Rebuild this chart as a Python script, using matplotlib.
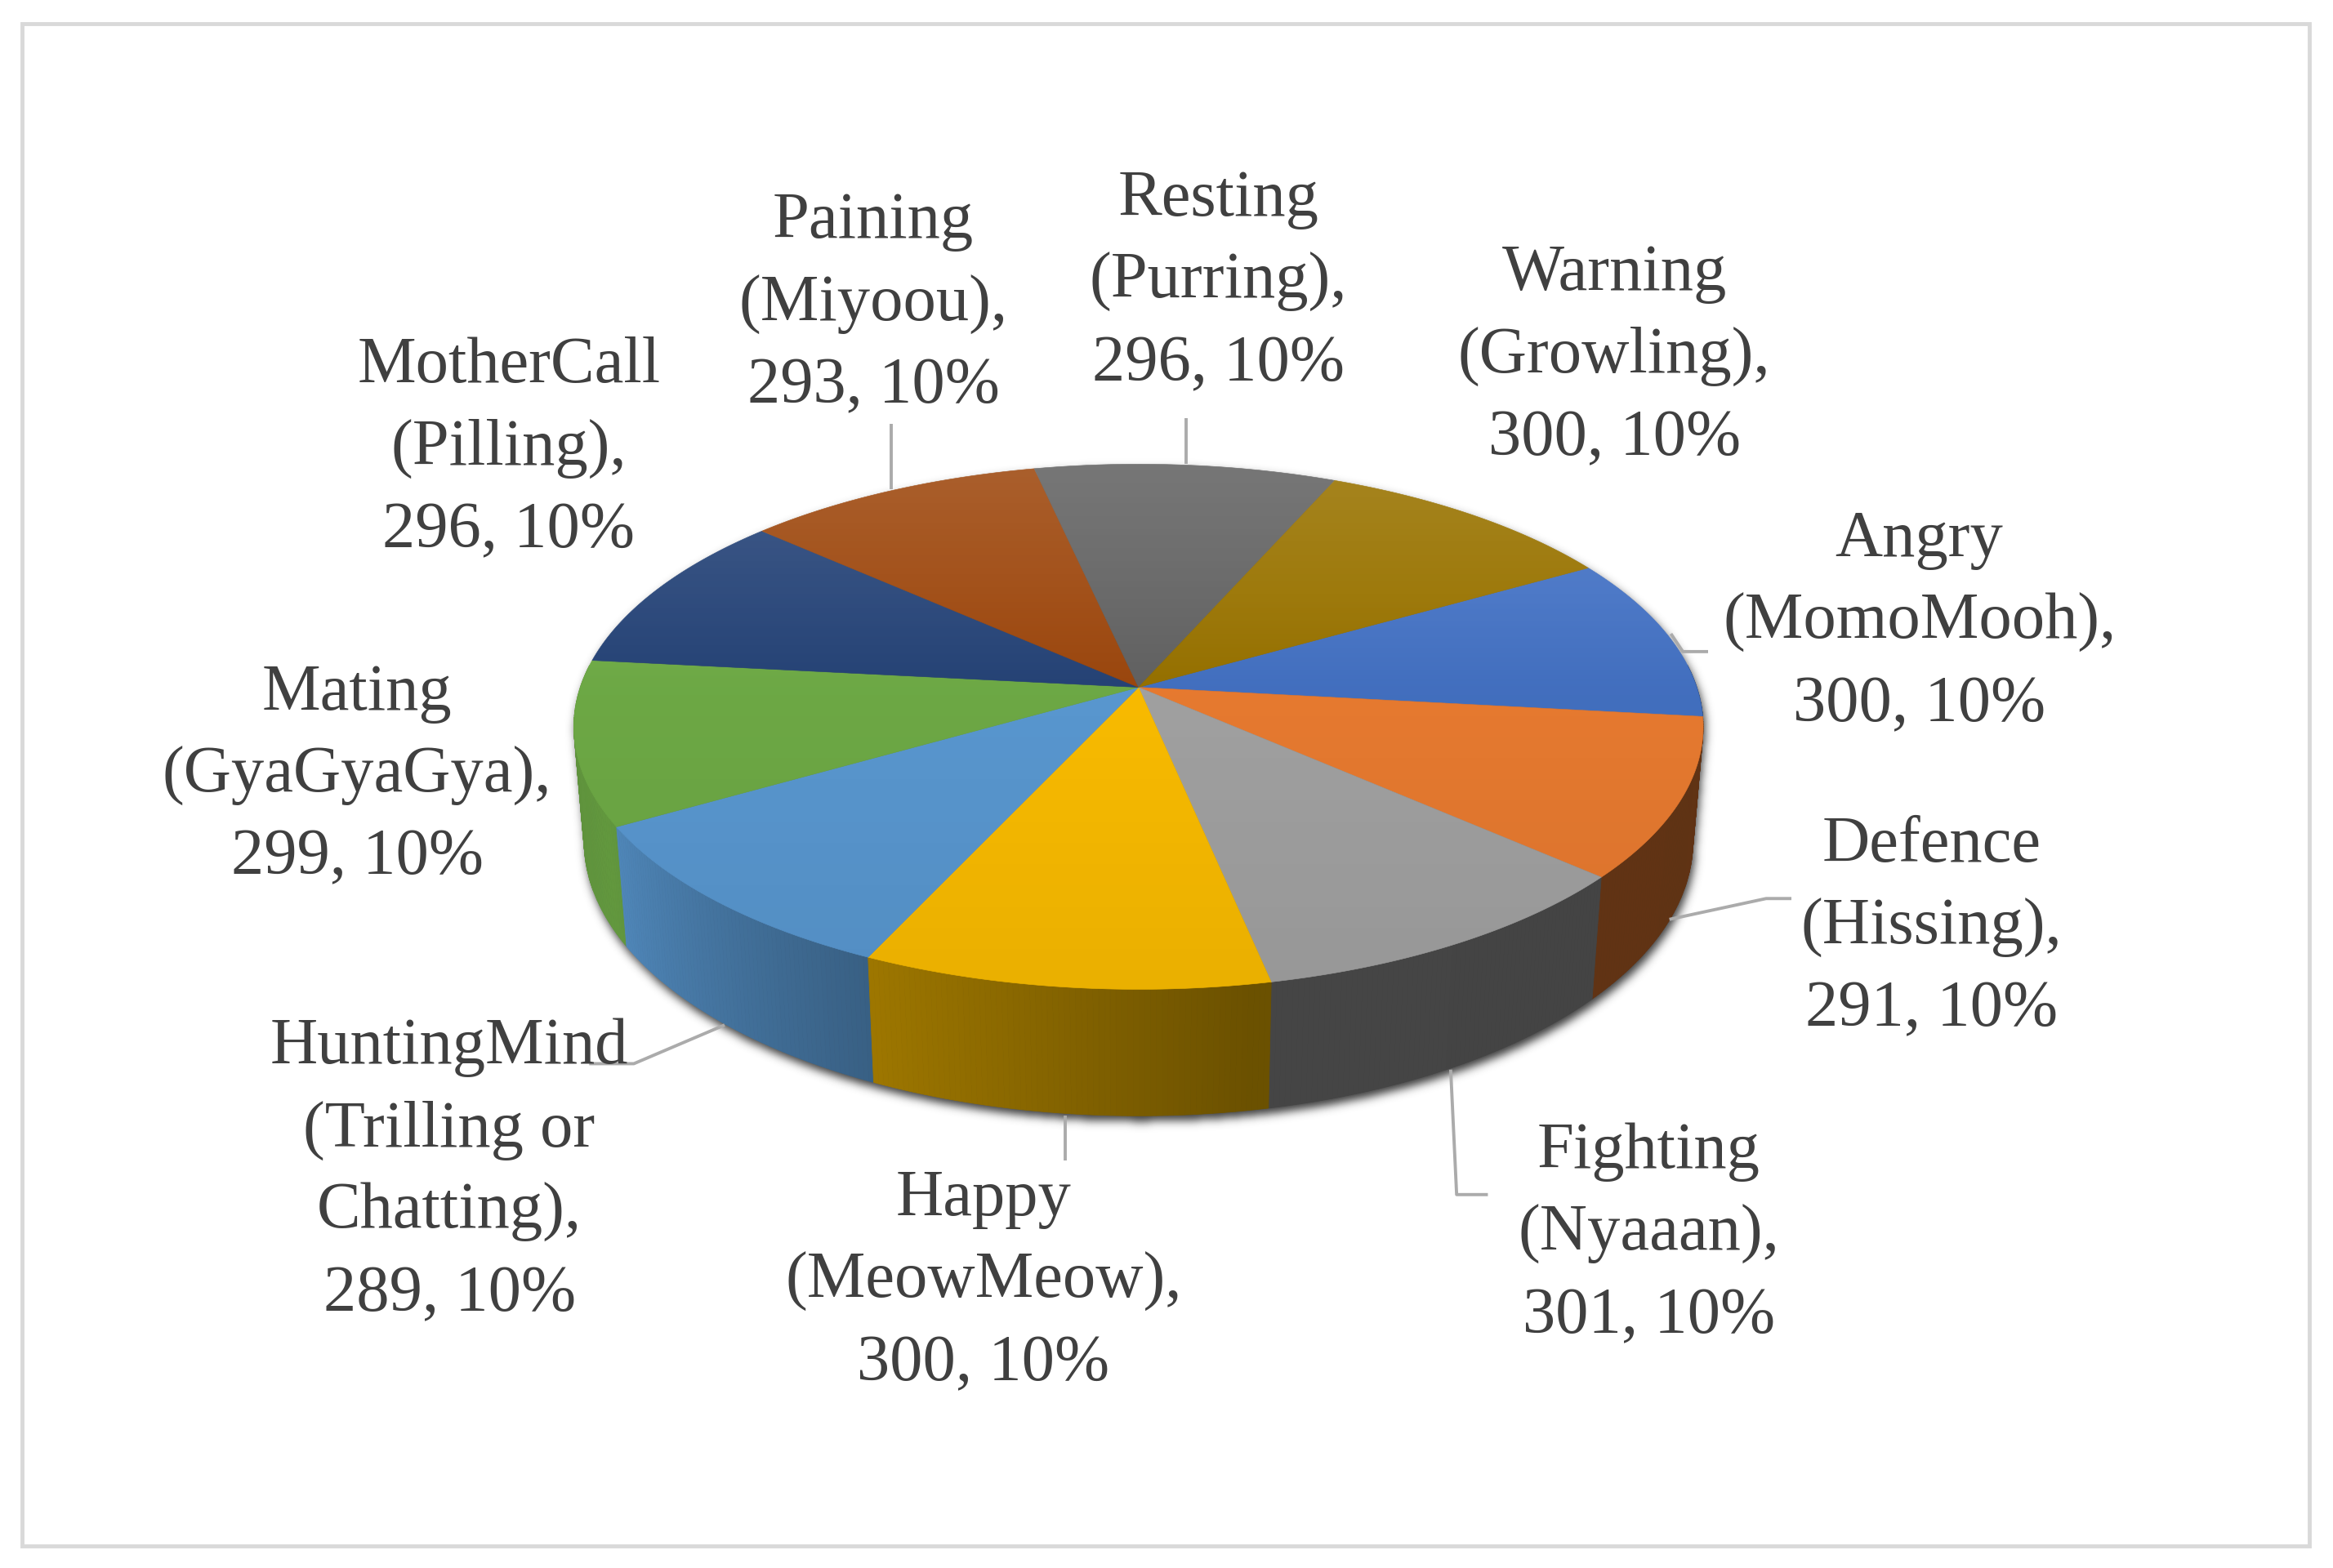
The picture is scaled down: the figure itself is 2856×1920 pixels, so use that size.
import numpy as np
import matplotlib.pyplot as plt
from matplotlib.patches import Polygon, Rectangle
from matplotlib.path import Path

# Datos del grafico (orden de la serie)
categorias = ['Angry', 'Defence', 'Fighting', 'Happy', 'HuntingMind',
              'Mating', 'MotherCall', 'Paining', 'Resting', 'Warning']
sonidos = ['(MomoMooh),', '(Hissing),', '(Nyaaan),', '(MeowMeow),',
           '(Trilling or\nChatting),', '(GyaGyaGya),', '(Pilling),',
           '(Miyoou),', '(Purring),', '(Growling),']
valores = [300, 291, 301, 300, 289, 299, 296, 293, 296, 300]
colores = ['#4472C4', '#ED7D31', '#A5A5A5', '#FFC000', '#5B9BD5',
           '#70AD47', '#264478', '#9E480E', '#636363', '#997300']

# posicion de las etiquetas (centro x, linea base de la primera linea)
etiqueta_x = [1290, 1298, 1108, 661, 302, 240, 342, 587, 819, 1085]
etiqueta_y = [374, 579, 785, 817, 715, 477, 257, 160, 145, 195]
interlineado = 55.4

# lineas guia (None = sin linea)
guias = [[(1123, 426), (1131, 438), (1148, 438)],
         [(1122, 618), (1187, 604), (1204, 604)],
         [(975, 719), (979, 803), (1000, 803)],
         [(716, 750), (716, 780)],
         [(487, 689), (426, 715), (396, 715)],
         None, None,
         [(599, 285), (599, 329)],
         [(797, 281), (797, 312)],
         None]

# Geometria de la torta 3D (perspectiva)
S = 375.2
sF = 0.4598
cF = np.sqrt(1 - sF**2)
D = 5.914
h = 0.2325
cx, cy = 765.2, 462.0
angulo_inicio = 30.0


def proyectar(theta, z):
    X = np.cos(theta)
    Y = np.sin(theta)
    v = Y*sF + z*cF
    d = Y*cF - z*sF
    f = D/(D + d)
    return cx + S*X*f, cy - S*v*f


def sombrear(color, k):
    rgb = np.array(plt.matplotlib.colors.to_rgb(color))
    return tuple(np.clip(rgb*k, 0, 1))


total = sum(valores)
acum = np.concatenate([[0], np.cumsum(valores)])
bordes = angulo_inicio - acum/total*360.0   # grados, sentido horario

fig = plt.figure(figsize=(28.56, 19.2), dpi=100)
ax = fig.add_axes([0, 0, 1, 1])
ax.set_xlim(0, 1568)
ax.set_ylim(1054, 0)
ax.axis('off')

# Marco
ax.add_patch(Rectangle((15, 16), 1537, 1023, fill=False, edgecolor='#D9D9D9', lw=3.5, zorder=1))

# Sombra
tang = np.degrees(np.arcsin(-0.15))
t_arriba = np.radians(np.linspace(tang, 180 - tang, 300))
t_abajo = np.radians(np.linspace(-180 - tang, tang, 300))
xa, ya = proyectar(t_arriba, 0)
xb, yb = proyectar(t_abajo, -h)
silueta = Path(np.column_stack([np.concatenate([xa, xb]), np.concatenate([ya, yb])]))
gx0, gx1, gy0, gy1 = 330, 1210, 270, 820
gx, gy = np.meshgrid(np.arange(gx0, gx1), np.arange(gy0, gy1))
mascara = silueta.contains_points(np.column_stack([gx.ravel() - 1.0, gy.ravel() - 3.0])).reshape(gx.shape).astype(float)
sigma = 3.0
kx = np.arange(-12, 13)
kern = np.exp(-kx**2/(2*sigma**2))
kern /= kern.sum()
mascara = np.apply_along_axis(lambda r: np.convolve(r, kern, mode='same'), 1, mascara)
mascara = np.apply_along_axis(lambda r: np.convolve(r, kern, mode='same'), 0, mascara)
sombra = np.zeros(mascara.shape + (4,))
sombra[..., :3] = 0.15
sombra[..., 3] = 0.9*mascara
ax.imshow(sombra, extent=(gx0, gx1, gy1, gy0), aspect='auto', zorder=2, interpolation='bilinear')

# Paredes laterales
fac_ang = [-185, -152, -115, -80, 0, 10]
fac_val = [0.80, 0.88, 0.62, 0.42, 0.40, 0.40]
tiras = []
for i in range(len(valores)):
    a1, a2 = bordes[i], bordes[i+1]
    # llevar al rango visible
    for desp in (0, -360, 360):
        lo, hi = max(a2 + desp, -185), min(a1 + desp, 5)
        if hi <= lo:
            continue
        n = max(2, int((hi - lo)/0.5) + 1)
        ts = np.linspace(hi, lo, n)
        for t0, t1 in zip(ts[:-1], ts[1:]):
            mid = 0.5*(t0 + t1)
            k = np.interp(mid, fac_ang, fac_val)
            r0, r1 = np.radians(t0), np.radians(t1)
            x0, y0 = proyectar(r0, 0)
            x1, y1 = proyectar(r1, 0)
            x2, y2 = proyectar(r1, -h)
            x3, y3 = proyectar(r0, -h)
            tiras.append((np.sin(np.radians(mid)), [(x0, y0), (x1, y1), (x2, y2), (x3, y3)], sombrear(colores[i], k)))
tiras.sort(key=lambda t: -t[0])
for _, pts, col in tiras:
    ax.add_patch(Polygon(pts, closed=True, facecolor=col, edgecolor=col, lw=0.6, zorder=3))

# Cara superior
for i in range(len(valores)):
    ts = np.radians(np.linspace(bordes[i], bordes[i+1], 120))
    xs, ys = proyectar(ts, 0)
    pts = [(cx, cy)] + list(zip(xs, ys))
    ax.add_patch(Polygon(pts, closed=True, facecolor=colores[i], edgecolor=colores[i], lw=0.4, zorder=4))

# degradado sobre la cara superior
tt = np.radians(np.linspace(0, 360, 400))
ex, ey = proyectar(tt, 0)
yy = np.linspace(300, 680, 400)
alfa_blanco = np.interp(yy, [300, 400, 462], [0.14, 0.05, 0.0])
alfa_negro = np.interp(yy, [400, 462, 680], [0.0, 0.03, 0.09])
grad = np.zeros((len(yy), 1, 4))
alfa = alfa_blanco + alfa_negro
grad[:, 0, :3] = (alfa_blanco/np.maximum(alfa, 1e-6))[:, None]
grad[:, 0, 3] = alfa
im = ax.imshow(grad, extent=(370, 1160, 680, 300), aspect='auto', zorder=5, interpolation='bilinear')
clip = Polygon(np.column_stack([ex, ey]), closed=True, transform=ax.transData)
im.set_clip_path(clip)

# Lineas guia
for g in guias:
    if g is None:
        continue
    g = np.array(g)
    ax.plot(g[:, 0], g[:, 1], color='#ABABAB', lw=2.8, zorder=6, solid_capstyle='butt')

# Etiquetas
for i in range(len(valores)):
    pct = round(valores[i]/total*100)
    lineas = [categorias[i]] + sonidos[i].split('\n') + [f'{valores[i]}, {pct}%']
    for j, linea in enumerate(lineas):
        ax.text(etiqueta_x[i], etiqueta_y[i] + j*interlineado, linea, ha='center', va='baseline',
                fontsize=58, family='Liberation Serif', color='#404040', zorder=7)

ax.set_xlim(0, 1568)
ax.set_ylim(1054, 0)
fig.savefig('out.png', dpi=100, facecolor='white')
